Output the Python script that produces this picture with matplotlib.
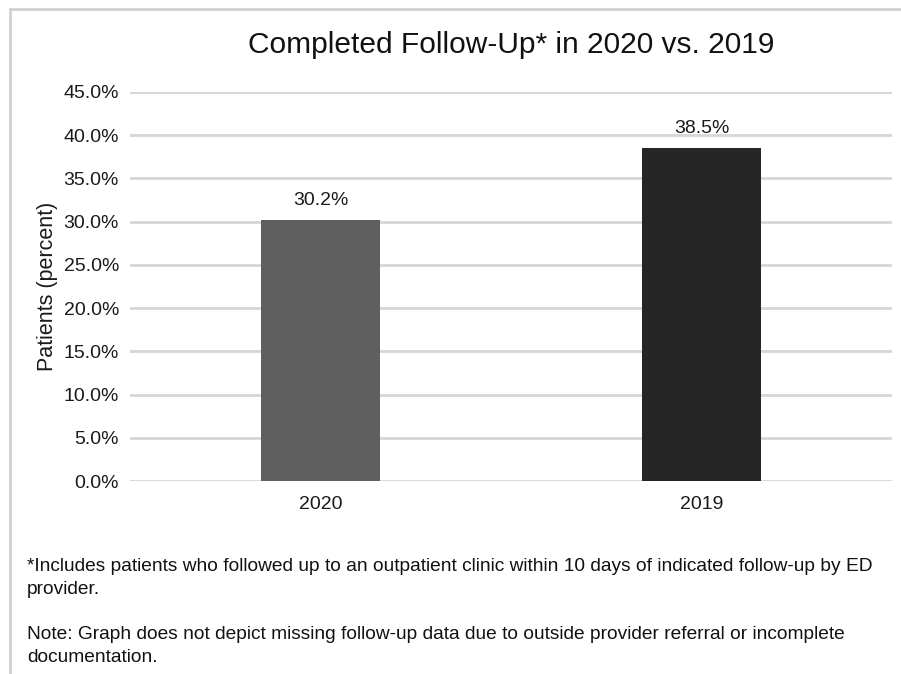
import matplotlib
matplotlib.use("Agg")
import matplotlib.pyplot as plt
from matplotlib.patches import Rectangle

# chart data
years = ["2020", "2019"]
completed = [30.2, 38.5]
bar_colors = ["#5f5f5f", "#262626"]
y_ticks = [0, 5, 10, 15, 20, 25, 30, 35, 40, 45]

title = "Completed Follow-Up* in 2020 vs. 2019"
note1 = ("*Includes patients who followed up to an outpatient clinic within 10 days of indicated follow-up by ED\n"
         "provider.")
note2 = ("Note: Graph does not depict missing follow-up data due to outside provider referral or incomplete\n"
         "documentation.")

plt.rcParams['font.family'] = ['Liberation Sans', 'DejaVu Sans']

fig = plt.figure(figsize=(9.01, 6.74), dpi=100)

# light frame around the whole picture (top and left visible)
fig.patches.append(Rectangle((10 / 901, -0.05), 1.1, 1 - 9 / 674 + 0.05,
                             transform=fig.transFigure, fill=False,
                             edgecolor="#d0d0d0", linewidth=2))

ax = fig.add_axes([130 / 901, 1 - 481 / 674, (892 - 130) / 901, (481 - 92) / 674])

x = range(len(years))
bars = ax.bar(x, completed, width=0.313, color=bar_colors, zorder=3)
for b, v in zip(bars, completed):
    ax.text(b.get_x() + b.get_width() / 2, v + 1.3, "%.1f%%" % v,
            ha="center", va="bottom", fontsize=14, color="#1a1a1a")

ax.set_xlim(-0.5, 1.5)
ax.set_ylim(0, 45)
ax.set_yticks(y_ticks)
ax.set_yticklabels(["%.1f%%" % t for t in y_ticks])
ax.set_xticks(list(x))
ax.set_xticklabels(years)
ax.tick_params(axis="both", length=0, labelsize=14, colors="#1a1a1a")
ax.tick_params(axis="y", pad=8)
ax.tick_params(axis="x", pad=11)
ax.yaxis.grid(True, color="#d6d6d6", linewidth=2, zorder=0)
for s in ax.spines.values():
    s.set_visible(False)
ax.set_ylabel("Patients (percent)", fontsize=15.5, color="#1a1a1a", labelpad=4)

fig.text(511 / 901, 1 - 45 / 674, title, ha="center", va="center", fontsize=21.5,
         color="#111111")
fig.text(27 / 901, 1 - 578 / 674, note1, ha="left", va="center", fontsize=13.8,
         color="#111111", linespacing=1.4)
fig.text(27 / 901, 1 - 646 / 674, note2, ha="left", va="center", fontsize=13.8,
         color="#111111", linespacing=1.4)

fig.savefig("out.png", dpi=100)
